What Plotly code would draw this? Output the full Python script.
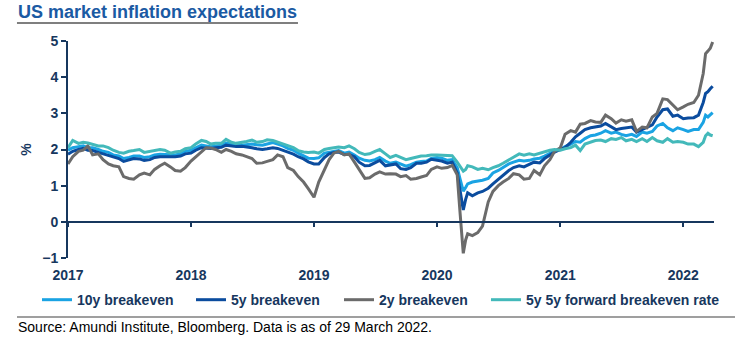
import plotly.graph_objects as go

# ---- dates (semi-monthly, extra points around the March 2020 crash and March 2022) ----
dates = []
for yr in range(2017, 2022):
    for mo in range(1, 13):
        days = [1, 9, 19, 26] if (yr == 2020 and mo == 3) else [1, 15]
        for d in days:
            dates.append(f"{yr}-{mo:02d}-{d:02d}")
dates += ["2022-01-01", "2022-01-15", "2022-02-01", "2022-02-15",
          "2022-03-01", "2022-03-08", "2022-03-15", "2022-03-22", "2022-03-29"]

series_names = ["10y breakeven", "5y breakeven", "2y breakeven", "5y 5y forward breakeven rate"]

be10y = [
    1.98, 2.05, 2.08, 2.10, 2.05, 2.05, 2.00, 1.95, 1.92, 1.85, 1.82, 1.75, 1.78, 1.82, 1.82, 1.78, 1.80, 1.85, 1.87, 1.86, 1.84, 1.85, 1.88, 1.95,
    1.98, 2.05, 2.12, 2.10, 2.08, 2.10, 2.12, 2.18, 2.15, 2.13, 2.12, 2.14, 2.15, 2.13, 2.12, 2.15, 2.19, 2.15, 2.10, 2.03, 1.98, 1.90, 1.83, 1.76,
    1.75, 1.77, 1.90, 1.93, 1.96, 1.97, 1.90, 1.93, 1.85, 1.76, 1.70, 1.68, 1.72, 1.78, 1.68, 1.62, 1.65, 1.60, 1.54, 1.58, 1.65, 1.67, 1.68, 1.75,
    1.78, 1.76, 1.70, 1.72, 1.50, 1.20, 0.85, 0.95, 1.05, 1.10, 1.12, 1.15, 1.20, 1.35, 1.42, 1.50, 1.60, 1.65, 1.70, 1.68, 1.70, 1.74, 1.76, 1.82, 1.90, 1.96,
    2.00, 2.08, 2.15, 2.22, 2.20, 2.30, 2.38, 2.40, 2.45, 2.52, 2.45, 2.48, 2.42, 2.38, 2.42, 2.36, 2.48, 2.45, 2.50, 2.65, 2.72, 2.60, 2.52, 2.60,
    2.55, 2.50, 2.55, 2.55, 2.75, 2.95, 2.90, 2.95, 3.02,
]

be5y = [
    1.87, 1.95, 2.00, 2.03, 1.98, 1.97, 1.92, 1.88, 1.85, 1.80, 1.75, 1.67, 1.72, 1.75, 1.74, 1.70, 1.72, 1.78, 1.80, 1.80, 1.78, 1.80, 1.82, 1.88,
    1.90, 1.98, 2.05, 2.04, 2.03, 2.05, 2.06, 2.12, 2.10, 2.08, 2.09, 2.08, 2.05, 2.02, 2.00, 2.02, 2.05, 2.03, 1.98, 1.92, 1.87, 1.80, 1.74, 1.66,
    1.60, 1.60, 1.78, 1.88, 1.92, 1.93, 1.86, 1.86, 1.80, 1.65, 1.55, 1.56, 1.64, 1.70, 1.55, 1.58, 1.60, 1.47, 1.45, 1.50, 1.62, 1.62, 1.65, 1.73,
    1.70, 1.68, 1.62, 1.65, 1.35, 0.90, 0.33, 0.62, 0.80, 0.72, 0.80, 0.84, 0.93, 1.05, 1.18, 1.30, 1.42, 1.50, 1.55, 1.52, 1.60, 1.65, 1.63, 1.75, 1.85, 1.93,
    2.00, 2.05, 2.20, 2.35, 2.45, 2.55, 2.60, 2.62, 2.65, 2.72, 2.62, 2.55, 2.58, 2.60, 2.62, 2.48, 2.55, 2.62, 2.68, 2.90, 3.10, 3.12, 2.92, 2.95,
    2.85, 2.87, 2.88, 2.95, 3.30, 3.55, 3.60, 3.68, 3.75,
]

be2y = [
    1.60, 1.80, 1.95, 1.98, 2.10, 1.85, 1.88, 1.72, 1.60, 1.55, 1.52, 1.25, 1.20, 1.18, 1.30, 1.35, 1.30, 1.45, 1.55, 1.62, 1.52, 1.42, 1.40, 1.50,
    1.68, 1.80, 1.95, 2.05, 2.04, 2.00, 1.92, 2.00, 1.95, 1.88, 1.85, 1.80, 1.75, 1.62, 1.63, 1.67, 1.72, 1.85, 1.80, 1.50, 1.42, 1.25, 1.10, 0.92,
    0.68, 1.10, 1.45, 1.72, 1.90, 1.95, 1.85, 1.88, 1.65, 1.45, 1.20, 1.22, 1.32, 1.38, 1.32, 1.33, 1.32, 1.25, 1.28, 1.18, 1.20, 1.24, 1.28, 1.45,
    1.52, 1.48, 1.50, 1.56, 1.30, 0.30, -0.87, -0.50, -0.33, -0.38, -0.30, -0.12, 0.55, 0.84, 1.00, 1.10, 1.20, 1.33, 1.30, 1.18, 1.20, 1.42, 1.30, 1.55, 1.72, 1.95,
    2.05, 2.42, 2.52, 2.48, 2.70, 2.72, 2.80, 2.76, 2.75, 2.95, 2.85, 2.73, 2.82, 2.78, 2.82, 2.50, 2.62, 2.60, 2.90, 3.00, 3.40, 3.38, 3.22, 3.10,
    3.18, 3.25, 3.30, 3.50, 4.10, 4.65, 4.72, 4.80, 4.97,
]

be5y5y = [
    2.05, 2.25, 2.17, 2.20, 2.18, 2.15, 2.10, 2.10, 2.05, 1.98, 1.92, 1.90, 1.95, 1.97, 2.00, 1.92, 1.95, 1.98, 2.00, 1.98, 1.90, 1.93, 1.95, 2.02,
    2.05, 2.15, 2.25, 2.22, 2.15, 2.17, 2.17, 2.28, 2.20, 2.17, 2.19, 2.22, 2.26, 2.20, 2.22, 2.27, 2.25, 2.20, 2.15, 2.10, 2.05, 1.97, 1.93, 1.92,
    1.93, 1.90, 2.00, 2.03, 2.06, 2.07, 2.05, 2.10, 2.02, 1.92, 1.86, 1.88, 1.95, 2.00, 1.88, 1.78, 1.84, 1.78, 1.72, 1.75, 1.80, 1.82, 1.83, 1.85,
    1.85, 1.84, 1.82, 1.83, 1.65, 1.55, 1.40, 1.45, 1.55, 1.52, 1.45, 1.48, 1.44, 1.50, 1.55, 1.62, 1.72, 1.80, 1.88, 1.84, 1.88, 1.85, 1.90, 1.95, 1.98, 2.00,
    1.98, 2.02, 2.05, 2.12, 1.97, 2.15, 2.20, 2.25, 2.26, 2.22, 2.30, 2.28, 2.33, 2.24, 2.28, 2.22, 2.30, 2.22, 2.33, 2.24, 2.20, 2.30, 2.20, 2.22,
    2.20, 2.15, 2.15, 2.08, 2.20, 2.38, 2.45, 2.40, 2.38,
]

year_ticks = ["2017-01-01", "2018-01-01", "2019-01-01", "2020-01-01", "2021-01-01", "2022-01-01"]
year_labels = ["2017", "2018", "2019", "2020", "2021", "2022"]

colors = ["#1AA3E3", "#0B4C9E", "#6B6B6B", "#43B9BA"]
NAVY = "#17375E"
FONT = "Liberation Sans, Arial, sans-serif"

legend_ids = ["legend", "legend2", "legend3", "legend4"]
legend_x = [-0.048, 0.1904, 0.4195, 0.647]

fig = go.Figure()
all_series = [be10y, be5y, be2y, be5y5y]
for i, (name, vals) in enumerate(zip(series_names, all_series)):
    fig.add_trace(go.Scatter(
        x=dates, y=vals, name=name, mode="lines",
        line=dict(color=colors[i], width=3),
        xaxis="x2" if i == 3 else "x",
        legend=legend_ids[i],
    ))

x_range = ["2017-01-01", "2022-04-02"]
legend_font = dict(family=FONT, size=14, color=NAVY, weight="bold")

legends = {}
for lid, lx in zip(legend_ids, legend_x):
    legends[lid] = dict(orientation="h", x=lx, y=-0.194, xanchor="left", yanchor="middle",
                        font=legend_font, itemwidth=30, bgcolor="rgba(0,0,0,0)")

fig.update_layout(
    width=750, height=345,
    margin=dict(l=68, r=36, t=41, b=87),
    paper_bgcolor="white", plot_bgcolor="white",
    font=dict(family=FONT, color=NAVY, size=14),
    showlegend=True,
    **legends,
    xaxis=dict(
        range=x_range, type="date",
        tickvals=year_ticks, ticktext=year_labels,
        showline=False, showgrid=False, zeroline=False,
        ticks="", ticklabelstandoff=7,
        tickfont=dict(family=FONT, size=14, color=NAVY, weight="bold"),
    ),
    xaxis2=dict(
        range=x_range, type="date", overlaying="x", matches="x",
        anchor="free", position=1/6, side="bottom",
        tickvals=year_ticks, showticklabels=False,
        showline=True, linecolor=NAVY, linewidth=2,
        ticks="outside", ticklen=4, tickwidth=2, tickcolor=NAVY,
        showgrid=False, zeroline=False,
    ),
    yaxis=dict(
        range=[-1, 5], dtick=1, tick0=0,
        showline=True, linecolor=NAVY, linewidth=2,
        ticks="outside", ticklen=5, tickwidth=2, tickcolor=NAVY,
        showgrid=False, zeroline=False,
        tickfont=dict(family=FONT, size=14, color=NAVY, weight="bold"),
    ),
)

# title, axis label and source
fig.add_annotation(text="US market inflation expectations", xref="paper", yref="paper",
                   x=-0.081, y=1.134, xanchor="left", yanchor="middle", showarrow=False,
                   font=dict(family=FONT, size=18, color="#1B5AA3", weight="bold"))
fig.add_annotation(text="%", xref="paper", yref="paper", x=-0.066, y=0.5, textangle=-90,
                   xanchor="center", yanchor="middle", showarrow=False,
                   font=dict(family=FONT, size=14, color=NAVY, weight="bold"))
fig.add_annotation(text="Source: Amundi Institute, Bloomberg. Data is as of 29 March 2022.",
                   xref="paper", yref="paper", x=-0.081, y=-0.318, xanchor="left", yanchor="middle",
                   showarrow=False, font=dict(family=FONT, size=14, color="#000000"))

# decorative rules (title underline, footer separator)
fig.add_shape(type="line", xref="paper", yref="paper", x0=-0.079, x1=0.356, y0=1.083, y1=1.083,
              line=dict(color="#7F7F7F", width=2))
fig.add_shape(type="line", xref="paper", yref="paper", x0=-0.079, x1=1.0325, y0=-0.272, y1=-0.272,
              line=dict(color="#7F7F7F", width=1.5))

fig.write_html("out.html")
